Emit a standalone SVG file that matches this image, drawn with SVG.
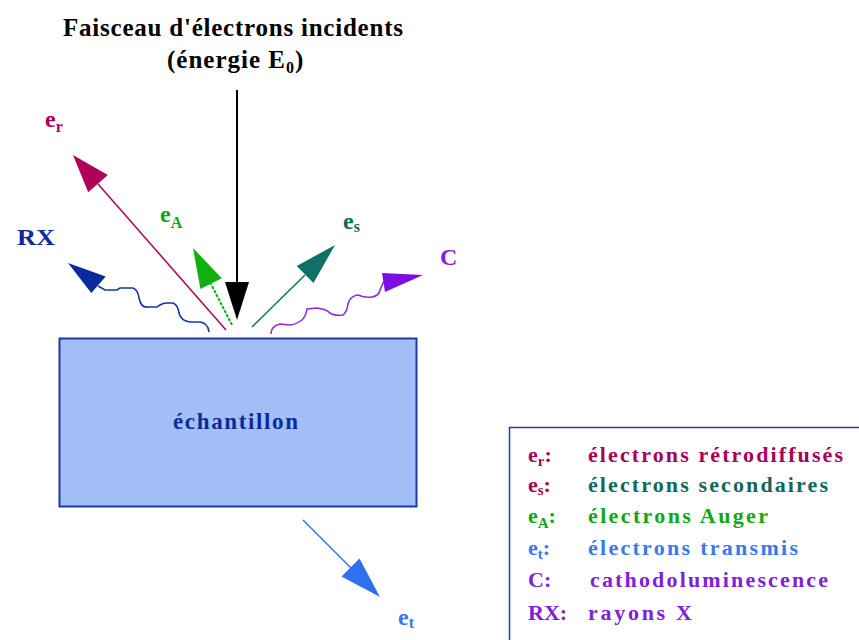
<svg xmlns="http://www.w3.org/2000/svg" width="859" height="640" viewBox="0 0 859 640">
<style>
.cr{fill:#a8005a;} .ct{fill:#106860;} .cg{fill:#10a810;} .cb{fill:#3a78f0;} .cp{fill:#8020d8;} .cd{fill:#0f2a9c;}
</style>
<rect width="859" height="640" fill="#fff"/>
<g id="title">
<text font-family="Liberation Serif" font-weight="bold" font-size="25" x="63" y="36" textLength="340" lengthAdjust="spacing">Faisceau d'électrons incidents</text>
<text font-family="Liberation Serif" font-weight="bold" font-size="25" x="167" y="68" letter-spacing="1">(énergie E<tspan font-size="16" dy="5">0</tspan><tspan dy="-5">)</tspan></text>
</g>
<g id="connectors">
<g id="incident">
<line x1="237" y1="90" x2="237" y2="284" stroke="#000" stroke-width="2"/>
<polygon points="225,282 249,282 237,320" fill="#000"/>
</g>
<g id="arrow-er">
<line x1="226" y1="330" x2="98" y2="184" stroke="#b0005a" stroke-width="1.5"/>
<polygon points="73,155 107.8,175 88.2,192.2" fill="#b0005a"/>
</g>
<g id="arrow-eA">
<line x1="232" y1="325" x2="211" y2="284" stroke="#10b010" stroke-width="2" stroke-dasharray="3,1.5"/>
<polygon points="193,248 221.8,278.3 200.4,289.1" fill="#10b010"/>
</g>
<g id="arrow-es">
<line x1="252" y1="327" x2="305" y2="275" stroke="#107068" stroke-width="1.5"/>
<polygon points="335,245 313.5,283 296.7,266" fill="#107068"/>
</g>
<g id="arrow-rx">
<path d="M98,286 L105,290 L117,290 L120,288 L133,288 Q138,290 139,298 Q141,308 148,307 L157,307 Q162,303 167,303 L173,303 Q178,305 179,313 Q181,321 190,322 L200,322 Q208,323 209,332" fill="none" stroke="#1038a8" stroke-width="1.6"/>
<polygon points="68,263 105.7,276.5 91.3,293" fill="#0a2a9c"/>
</g>
<g id="arrow-c">
<path d="M271,334 Q271,326 280,324 L290,325 Q297,324 302,320 Q306,316 307,309 L317,308 Q326,309 330,313 Q334,316 343,315 Q347,312 348,304 Q350,296 358,295 Q365,298 372,297 Q379,296 380,290 L384,281" fill="none" stroke="#8a2ae8" stroke-width="1.6"/>
<polygon points="382,273 423,275 385,292" fill="#7a10e0"/>
</g>
<g id="arrow-et">
<line x1="303" y1="520" x2="352" y2="569" stroke="#3070f0" stroke-width="1.5"/>
<polygon points="380,597 341.5,576.5 359.5,558.5" fill="#3070f0"/>
</g>
</g>
<g id="label-er"><text font-family="Liberation Serif" font-weight="bold" class="cr" x="45" y="127" font-size="24">e<tspan font-size="16" dy="5">r</tspan></text></g>
<g id="label-eA"><text font-family="Liberation Serif" font-weight="bold" class="cg" x="160" y="222" font-size="24">e<tspan font-size="16" dy="6">A</tspan></text></g>
<g id="label-es"><text font-family="Liberation Serif" font-weight="bold" class="ct" x="343" y="229" font-size="24">e<tspan font-size="16" dy="3">s</tspan></text></g>
<g id="label-rx"><text font-family="Liberation Serif" font-weight="bold" class="cd" x="17" y="245" font-size="23" textLength="38" lengthAdjust="spacingAndGlyphs">RX</text></g>
<g id="label-c"><text font-family="Liberation Serif" font-weight="bold" class="cp" x="440" y="265" font-size="24">C</text></g>
<g id="label-et"><text font-family="Liberation Serif" font-weight="bold" class="cb" x="398" y="625" font-size="24">e<tspan font-size="16" dy="3">t</tspan></text></g>
<g id="sample">
<rect x="59.5" y="338.5" width="357" height="168" fill="#a2bff7" stroke="#1a3aa8" stroke-width="2"/>
<text font-family="Liberation Serif" font-weight="bold" class="cd" x="173" y="429" font-size="23" textLength="125" lengthAdjust="spacing">échantillon</text>
</g>
<g id="legend" font-family="Liberation Serif" font-weight="bold" font-size="22">
<rect x="509.5" y="427.5" width="360" height="230" fill="#fff" stroke="#2040a8" stroke-width="1.5"/>
<text font-family="Liberation Serif" class="cr" x="528" y="462">e<tspan font-size="15" dy="4">r</tspan><tspan dy="-4">:</tspan></text>
<text font-family="Liberation Serif" class="cr" x="588" y="462" textLength="255" lengthAdjust="spacing">électrons rétrodiffusés</text>
<text font-family="Liberation Serif" class="cr" x="528" y="492">e<tspan font-size="15" dy="3">s</tspan><tspan dy="-3">:</tspan></text>
<text font-family="Liberation Serif" class="ct" x="588" y="492" textLength="240" lengthAdjust="spacing">électrons secondaires</text>
<text font-family="Liberation Serif" class="cg" x="528" y="523">e<tspan font-size="15" dy="5">A</tspan><tspan dy="-5">:</tspan></text>
<text font-family="Liberation Serif" class="cg" x="588" y="523" textLength="180" lengthAdjust="spacing">électrons Auger</text>
<text font-family="Liberation Serif" class="cb" x="528" y="555">e<tspan font-size="15" dy="4">t</tspan><tspan dy="-4">:</tspan></text>
<text font-family="Liberation Serif" class="cb" x="588" y="555" textLength="210" lengthAdjust="spacing">électrons transmis</text>
<text font-family="Liberation Serif" class="cp" x="528" y="587">C:</text>
<text font-family="Liberation Serif" class="cp" x="590" y="587" textLength="238" lengthAdjust="spacing">cathodoluminescence</text>
<text font-family="Liberation Serif" class="cp" x="528" y="620">RX:</text>
<text font-family="Liberation Serif" class="cp" x="588" y="620" textLength="104" lengthAdjust="spacing">rayons X</text>
</g>
</svg>
